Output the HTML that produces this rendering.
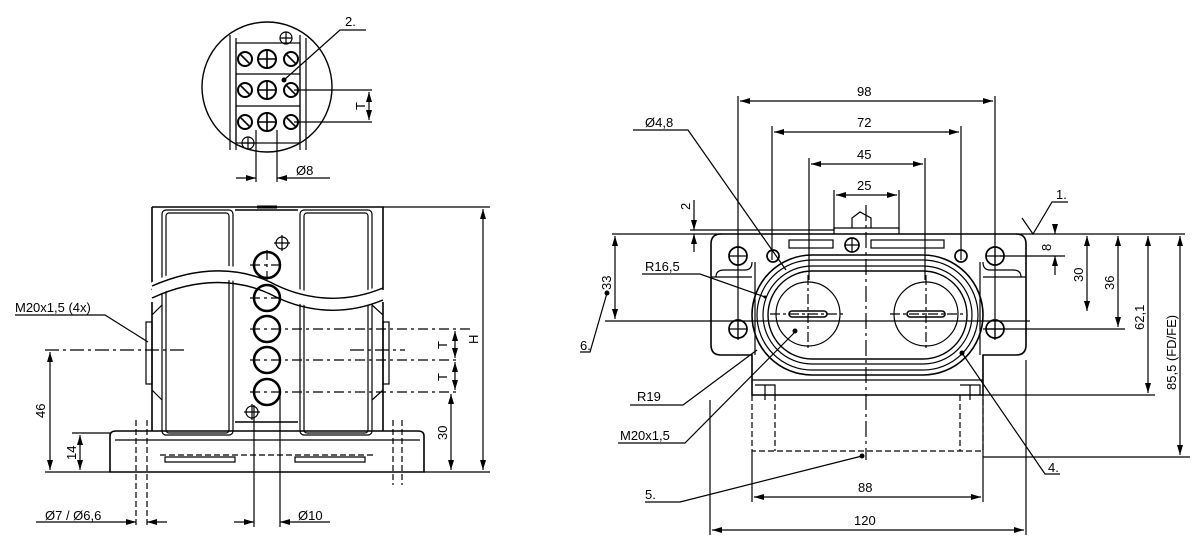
<!DOCTYPE html>
<html><head><meta charset="utf-8"><style>
html,body{margin:0;padding:0;background:#fff}
svg{display:block}
text{font-family:"Liberation Sans",sans-serif;font-size:13px;fill:#000}
</style></head><body>
<svg width="1200" height="549" viewBox="0 0 1200 549" xmlns="http://www.w3.org/2000/svg">
<defs>
<marker id="a" viewBox="0 0 10 6" refX="10" refY="3" markerWidth="10" markerHeight="6" orient="auto-start-reverse" markerUnits="userSpaceOnUse"><path d="M0,0 L10,3 L0,6z" fill="#000"/></marker>
</defs>
<g fill="none" stroke="#000" stroke-width="1.2">
<!-- ===== TOP DETAIL ===== -->
<circle cx="267" cy="87" r="65" stroke-width="1.4"/>
<line x1="230" y1="35" x2="230" y2="150"/><line x1="236" y1="38" x2="236" y2="150"/>
<line x1="300" y1="35" x2="300" y2="150"/><line x1="306" y1="38" x2="306" y2="150"/>
<rect x="236" y="43" width="64" height="100"/>
<line x1="236" y1="74" x2="300" y2="74"/><line x1="236" y1="106" x2="300" y2="106"/>
<g stroke-width="2">
<circle cx="245" cy="59" r="7"/><circle cx="267" cy="59" r="9"/><circle cx="291" cy="59" r="7"/>
<circle cx="245" cy="90" r="7"/><circle cx="267" cy="90" r="9"/><circle cx="291" cy="90" r="7"/>
<circle cx="245" cy="122" r="7"/><circle cx="267" cy="122" r="9"/><circle cx="291" cy="122" r="7"/>
</g>
<g stroke-width="1.6">
<path d="M240,54 L250,64 M240,85 L250,95 M240,117 L250,127 M286,54 L296,64 M286,85 L296,95 M286,117 L296,127 M267,49 V69 M267,80 V100 M267,112 V132 M259,59 H275 M259,90 H275 M259,122 H275"/>
</g>
<circle cx="286" cy="38" r="6"/><path d="M280,38 H292 M286,32 V44"/>
<circle cx="248" cy="143" r="6"/><path d="M242,143 H254 M248,137 V149"/>
<path d="M294,90 H372 M294,122 H372"/>
<line x1="369" y1="92" x2="369" y2="120" marker-start="url(#a)" marker-end="url(#a)"/>
<path d="M256,130 V182 M277,130 V182"/>
<line x1="236" y1="178" x2="256" y2="178" marker-end="url(#a)"/>
<line x1="330" y1="178" x2="277" y2="178" marker-end="url(#a)"/>
<path d="M284,80 L340,30 H366"/>
<!-- ===== LEFT VIEW ===== -->
<path d="M152,207 H383 V290 M152,207 V290" stroke-width="1.6"/>
<path d="M152,302 V431 M383,302 V431" stroke-width="1.6"/>
<rect x="162" y="210" width="71" height="225" rx="4"/>
<rect x="166" y="213" width="63" height="220" rx="3"/>
<rect x="300" y="210" width="72" height="225" rx="4"/>
<rect x="304" y="213" width="64" height="220" rx="3"/>
<path d="M235,210 H298 M235,422 H298" stroke-width="1.6"/>
<path d="M257,207 H277" stroke-width="3"/>
<path d="M152,290 C200,265 240,270 270,285 C300,300 340,310 383,292" stroke="#fff" stroke-width="14"/>
<path d="M152,286 C200,265 240,268 270,282 C300,298 340,306 383,288" stroke-width="1.4"/>
<path d="M152,298 C200,276 240,280 270,294 C300,310 340,318 383,300" stroke-width="1.4"/>
<g stroke-width="2.5">
<circle cx="267" cy="265" r="13"/><circle cx="267" cy="298" r="13"/><circle cx="267" cy="329" r="13"/><circle cx="267" cy="360" r="13"/><circle cx="267" cy="392" r="13"/>
</g>
<path d="M250,265 H285 M267,250 V280 M250,298 H285 M250,329 H470 M250,360 H460 M250,392 H460" stroke-dasharray="10,4,3,4"/>
<circle cx="282" cy="243" r="6"/><path d="M274,243 H290 M282,235 V251"/>
<circle cx="252" cy="412" r="6"/><path d="M244,412 H260 M252,404 V420"/>
<path d="M254,405 V527 M280,390 V527"/>
<rect x="146" y="322" width="6" height="62"/><rect x="383" y="322" width="6" height="62"/>
<path d="M152,315 L162,305 M152,390 L162,400 M383,315 L372,305 M383,390 L372,400"/>
<path d="M45,350 H185 M350,350 H405" stroke-dasharray="14,4,3,4"/>
<path d="M110,436 Q110,431 116,431 H418 Q424,431 424,436 V472 H110 Z" stroke-width="1.6"/>
<path d="M115,440 H420"/>
<path d="M165,457 H235 V462 H165Z M295,457 H365 V462 H295Z"/>
<path d="M160,455 H375" stroke-dasharray="6,3"/>
<path d="M136,420 V527 M147,420 V527 M393,420 V485 M402,420 V485" stroke-dasharray="6,3"/>
<path d="M45,472 H110 M424,472 H490 M72,433 H110 M383,207 H490"/>
<line x1="50" y1="352" x2="50" y2="470" marker-start="url(#a)" marker-end="url(#a)"/>
<line x1="80" y1="435" x2="80" y2="470" marker-start="url(#a)" marker-end="url(#a)"/>
<line x1="455" y1="331" x2="455" y2="358" marker-start="url(#a)" marker-end="url(#a)"/>
<line x1="455" y1="362" x2="455" y2="390" marker-start="url(#a)" marker-end="url(#a)"/>
<line x1="451" y1="394" x2="451" y2="470" marker-start="url(#a)" marker-end="url(#a)"/>
<line x1="483" y1="209" x2="483" y2="470" marker-start="url(#a)" marker-end="url(#a)"/>
<line x1="36" y1="522" x2="136" y2="522" marker-end="url(#a)"/>
<line x1="167" y1="522" x2="147" y2="522" marker-end="url(#a)"/>
<line x1="234" y1="522" x2="254" y2="522" marker-end="url(#a)"/>
<line x1="330" y1="522" x2="280" y2="522" marker-end="url(#a)"/>
<path d="M15,315 H105 L148,342"/>
<!-- ===== RIGHT VIEW ===== -->
<path d="M722,234 H1016 Q1026,234 1026,244 V345 Q1026,355 1016,355 H983 V395 H752 V355 H721 Q711,355 711,345 V244 Q711,234 721,234 Z" stroke-width="1.6"/>
<path d="M711,277 H752 M983,277 H1026"/>
<path d="M711,321 H1030 M605,321 H752"/>
<path d="M752,380 H983"/>
<path d="M755,262 V355 M980,262 V355"/>
<path d="M716,277 Q716,270 724,270 H745 Q752,270 752,262 M1021,277 Q1021,270 1013,270 H990 Q983,270 983,262"/>
<rect x="752" y="255" width="231" height="120" rx="60" stroke-width="1.6"/>
<rect x="757" y="260" width="221" height="110" rx="55"/>
<rect x="763" y="266" width="209" height="98" rx="49"/>
<rect x="768" y="271" width="199" height="88" rx="44" stroke-width="1.4"/>
<circle cx="808" cy="314" r="32"/><circle cx="926" cy="314" r="32"/>
<rect x="789" y="311" width="38" height="6" rx="3" stroke-width="1.6"/><rect x="907" y="311" width="38" height="6" rx="3" stroke-width="1.6"/>
<g stroke-width="1.7">
<circle cx="738" cy="256" r="9"/><circle cx="995" cy="256" r="9"/><circle cx="738" cy="329" r="9"/><circle cx="995" cy="329" r="9"/>
<circle cx="773" cy="256" r="6"/><circle cx="961" cy="256" r="6"/>
<circle cx="852" cy="245" r="7"/>
</g>
<path d="M729,256 H747 M738,247 V265 M986,256 H1004 M995,247 V265 M729,329 H747 M738,320 V338 M986,329 H1004 M995,320 V338 M845,245 H859 M852,238 V252"/>
<rect x="789" y="240" width="44" height="8"/><rect x="871" y="240" width="73" height="8"/>
<path d="M834,234 V228 H899 V234 M852,228 V218 L860,212 L871,218 V228"/>
<path d="M752,395 V451 H983 V395 M775,395 V451 M960,395 V451" stroke-dasharray="6,3"/>
<path d="M755,385 H775 V395 M960,385 H980 V395 M765,385 V400 M970,385 V400"/>
<path d="M866,205 V460" stroke-dasharray="16,4,3,4"/>
<path d="M808,275 V350 M926,275 V350 M770,314 H845 M890,314 H965" stroke-dasharray="10,3,3,3"/>
<path d="M738,96 V340 M995,96 V340 M772,126 V260 M961,126 V260 M809,158 V280 M925,158 V280 M834,190 V230 M899,190 V230"/>
<path d="M710,400 V535 M1026,360 V535 M752,451 V502 M983,395 V502"/>
<line x1="740" y1="101" x2="993" y2="101" marker-start="url(#a)" marker-end="url(#a)"/>
<line x1="774" y1="132" x2="959" y2="132" marker-start="url(#a)" marker-end="url(#a)"/>
<line x1="811" y1="164" x2="923" y2="164" marker-start="url(#a)" marker-end="url(#a)"/>
<line x1="836" y1="195" x2="897" y2="195" marker-start="url(#a)" marker-end="url(#a)"/>
<line x1="754" y1="497" x2="981" y2="497" marker-start="url(#a)" marker-end="url(#a)"/>
<line x1="712" y1="530" x2="1024" y2="530" marker-start="url(#a)" marker-end="url(#a)"/>
<path d="M612,234 H722 M690,230 H834 M1016,234 H1185 M1000,256 H1065 M983,329 H1125 M983,395 H1155 M983,457 H1190"/>
<line x1="615" y1="236" x2="615" y2="319" marker-start="url(#a)" marker-end="url(#a)"/>
<line x1="694" y1="200" x2="694" y2="230" marker-end="url(#a)"/>
<line x1="694" y1="252" x2="694" y2="234" marker-end="url(#a)"/>
<line x1="1055" y1="226" x2="1055" y2="234" marker-end="url(#a)"/>
<line x1="1055" y1="275" x2="1055" y2="256" marker-end="url(#a)"/>
<line x1="1087" y1="236" x2="1087" y2="311" marker-start="url(#a)" marker-end="url(#a)"/>
<line x1="1118" y1="236" x2="1118" y2="327" marker-start="url(#a)" marker-end="url(#a)"/>
<line x1="1148" y1="236" x2="1148" y2="393" marker-start="url(#a)" marker-end="url(#a)"/>
<line x1="1180" y1="236" x2="1180" y2="455" marker-start="url(#a)" marker-end="url(#a)"/>
<path d="M633,130 H688 L786,270"/>
<path d="M642,274 H700 L765,297"/>
<path d="M630,405 H683 L757,350"/>
<path d="M618,443 H685 L795,332"/>
<path d="M645,502 H680 L862,456"/>
<path d="M1060,474 H1045 L962,353"/>
<path d="M1022,218 L1033,234 L1052,202 H1068"/>
<path d="M580,352 H590 L607,293"/>
</g>
<g fill="#000">
<circle cx="795" cy="331" r="2.5"/><circle cx="862" cy="456" r="2.5"/><circle cx="962" cy="353" r="2.5"/><circle cx="607" cy="293" r="2.5"/><circle cx="284" cy="80" r="2.5"/><circle cx="765" cy="297" r="1.5"/>
</g>
<text x="345" y="26">2.</text>
<text x="365" y="110" transform="rotate(-90 365 110)">T</text>
<text x="296" y="175">Ø8</text>
<text x="15" y="312">M20x1,5 (4x)</text>
<text x="45" y="418" transform="rotate(-90 45 418)">46</text>
<text x="76" y="460" transform="rotate(-90 76 460)">14</text>
<text x="447" y="440" transform="rotate(-90 447 440)">30</text>
<text x="447" y="349" transform="rotate(-90 447 349)">T</text>
<text x="447" y="381" transform="rotate(-90 447 381)">T</text>
<text x="478" y="344" transform="rotate(-90 478 344)">H</text>
<text x="45" y="520">Ø7 / Ø6,6</text>
<text x="298" y="520">Ø10</text>
<text x="857" y="96">98</text>
<text x="857" y="127">72</text>
<text x="857" y="159">45</text>
<text x="857" y="190">25</text>
<text x="858" y="492">88</text>
<text x="854" y="525">120</text>
<text x="645" y="127">Ø4,8</text>
<text x="645" y="271">R16,5</text>
<text x="637" y="401">R19</text>
<text x="620" y="440">M20x1,5</text>
<text x="645" y="499">5.</text>
<text x="1048" y="472">4.</text>
<text x="1056" y="199">1.</text>
<text x="580" y="350">6.</text>
<text x="611" y="290" transform="rotate(-90 611 290)">33</text>
<text x="690" y="210" transform="rotate(-90 690 210)">2</text>
<text x="1051" y="251" transform="rotate(-90 1051 251)">8</text>
<text x="1083" y="282" transform="rotate(-90 1083 282)">30</text>
<text x="1114" y="290" transform="rotate(-90 1114 290)">36</text>
<text x="1144" y="330" transform="rotate(-90 1144 330)">62,1</text>
<text x="1176" y="390" transform="rotate(-90 1176 390)">85,5 (FD/FE)</text>
</svg>
</body></html>
